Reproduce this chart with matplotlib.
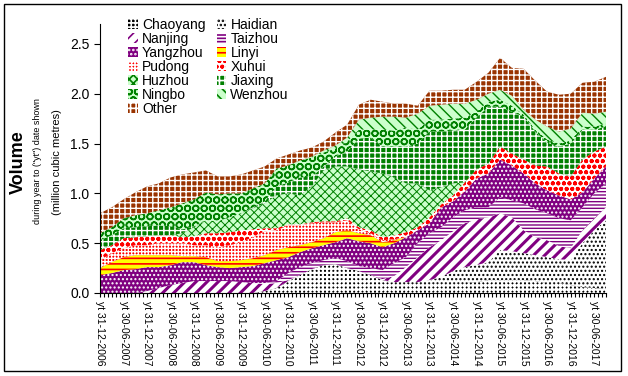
import numpy as np
import matplotlib
matplotlib.use('Agg')
import matplotlib.pyplot as plt
from matplotlib.patches import Rectangle, Patch

plt.rcParams['font.family'] = ['Liberation Sans', 'DejaVu Sans']
plt.rcParams['hatch.linewidth'] = 1.2

# month index (0 = Dec 2006), quarterly readings
months = list(range(0, 130, 3))

chaoyang = [0, 0, 0, 0, 0, 0, 0, 0, 0, 0, 0, 0, 0, 0,
            .02, .05, .12, .18, .24, .28, .29, .25, .22, .18, .13, .10, .10, .10, .10, .10,
            .10, .10, .11, .13, .13, .13, .13, .12, .10, .10, .08, .06, .05, .04]
haidian = [0, 0, 0, 0, 0, 0, 0, 0, 0, 0, 0, 0, 0, 0, 0, 0, 0, 0, 0, 0, 0, 0, 0, 0, 0,
           .01, .01, .01, .03, .06, .12, .16, .17, .18, .30, .29, .27, .26, .26, .24,
           .25, .44, .58, .69]
nanjing = [0, 0, 0, 0, .02, .05, .08, .10, .12, .12, .12, .12, .11, .10, .07, .05, .01,
           0, 0, 0, 0, 0, 0, 0, .01, .06, .15, .25, .33, .37, .40, .44, .46, .45, .37,
           .34, .23, .18, .17, .13, .12, .13, .12, .13]
taizhou = [0, 0, 0, 0, 0, 0, 0, 0, 0, 0, 0, 0, 0, 0,
           .01, .02, .07, .08, .06, .05, .06, .07, .05, .07, .09, .13, .10, .14, .14, .13,
           .14, .13, .12, .10, .16, .17, .27, .28, .27, .28, .28, .23, .25, .24]
yangzhou = [.18, .20, .23, .24, .24, .21, .20, .21, .19, .16, .14, .13, .15, .17, .20,
            .21, .16, .15, .15, .15, .16, .23, .25, .25, .23, .20, .20, .13, .10, .20,
            .16, .19, .29, .34, .38, .35, .30, .26, .23, .23, .21, .15, .15, .17]
linyi = [.07, .11, .13, .14, .12, .12, .10, .06, .06, .08, .06, .07, .07, .08, .08, .10,
         .10, .07, .06, .07, .10, .08, .08, .08, .05, .03,
         0, 0, 0, 0, 0, 0, 0, 0, 0, 0, 0, 0, 0, 0, 0, 0, 0, 0]
pudong = [.08, .09, .09, .10, .10, .12, .12, .13, .11, .12, .14, .16, .18, .21, .24, .20,
          .22, .20, .19, .16, .10, .10, .04, .02, .02, .01,
          0, 0, 0, 0, 0, 0, 0, 0, 0, 0, 0, 0, 0, 0, 0, 0, 0, 0]
xuhui = [.10, .08, .10, .08, .09, .08, .08, .06, .09, .12, .14, .13, .12, .08, .03, .02,
         .01, .01, .01, .01, .01, .02, .02, .03, .03, .04, .05, .03, .06, .03, .06, .09,
         .09, .10, .13, .12, .14, .18, .24, .22, .23, .33, .27, .20]
huzhou = [0, 0, 0, 0, 0, 0, 0, .04, .09, .13, .12, .15, .17, .21, .25, .33, .31, .29,
          .36, .51, .55, .52, .58, .59, .64, .58, .49, .44, .27, .17, .12,
          0, 0, 0, 0, 0, 0, 0, 0, 0, 0, 0, 0, 0]
jiaxing = [.10, .10, .10, .10, .10, .10, .09, .04, .01, 0, 0, 0, 0, .01, .02, .09, .11,
           .18, .10, .04, .10, .15, .31, .34, .27, .31, .37, .40, .59, .56, .53, .53,
           .52, .57, .40, .42, .43, .34, .24, .27, .33, .30, .22, .20]
ningbo = [.07, .08, .10, .12, .13, .15, .19, .26, .27, .28, .27, .24, .20, .19, .18, .18,
          .17, .17, .19, .14, .08, .10, .09, .08, .17, .16, .19, .14, .12, .12, .12, .12,
          .06, .05, .07, .06, .02, .02, .03, .03, .03, .03, .03, .03]
wenzhou = [0, 0, 0, 0, 0, 0, 0, 0, 0, 0, 0, 0, 0, 0, 0, 0, 0, 0,
           .01, .02, .03, .04, .10, .12, .13, .14, .10, .16, .14, .15, .15, .14, .12, .08,
           .10, .10, .05, .10, .13, .12, .12, .14, .13, .12]
other = [.20, .20, .19, .23, .27, .27, .30, .29, .27, .22, .18, .17, .19, .18, .17, .10,
         .11, .10, .09, .09, .13, .13, .15, .18, .15, .13, .14, .08, .15, .14, .14, .14,
         .18, .21, .32, .28, .41, .39, .35, .37, .35, .30, .32, .35]

tick_labels = ['yt 31-12-2006', 'yt 30-06-2007', 'yt 31-12-2007', 'yt 30-06-2008',
               'yt 31-12-2008', 'yt 30-06-2009', 'yt 31-12-2009', 'yt 30-06-2010',
               'yt 31-12-2010', 'yt 30-06-2011', 'yt 31-12-2011', 'yt 30-06-2012',
               'yt 31-12-2012', 'yt 30-06-2013', 'yt 31-12-2013', 'yt 30-06-2014',
               'yt 31-12-2014', 'yt 30-06-2015', 'yt 31-12-2015', 'yt 30-06-2016',
               'yt 31-12-2016', 'yt 30-06-2017']

# name, values, face, hatch colour, hatch, hatch line width
series = [
    ('Chaoyang', chaoyang, '#000000', '#FFFFFF', '++++', 1.6),
    ('Haidian', haidian, '#FFFFFF', '#000000', '....', 1.0),
    ('Nanjing', nanjing, '#FFFFFF', '#800080', '///', 2.2),
    ('Taizhou', taizhou, '#FFFFFF', '#800080', '-----', 1.0),
    ('Yangzhou', yangzhou, '#800080', '#FFFFFF', '....', 1.0),
    ('Linyi', linyi, '#FFFF00', '#FF0000', '---', 1.2),
    ('Pudong', pudong, '#FF0000', '#FFFFFF', '+++++', 1.0),
    ('Xuhui', xuhui, '#FFFFFF', '#FF0000', 'ooo', 1.3),
    ('Huzhou', huzhou, '#CCFFCC', '#008000', 'xxxx', 0.7),
    ('Jiaxing', jiaxing, '#008000', '#FFFFFF', '+++', 1.0),
    ('Ningbo', ningbo, '#CCFFCC', '#008000', 'OO', 1.1),
    ('Wenzhou', wenzhou, '#CCFFCC', '#008000', '\\\\\\', 1.0),
    ('Other', other, '#993300', '#FFFFFF', '+++', 1.0),
]


def set_hlw(artist, lw):
    if hasattr(artist, 'set_hatch_linewidth'):
        artist.set_hatch_linewidth(lw)
    else:
        artist._hatch_linewidth = lw


fig = plt.figure(figsize=(6.28, 3.76), dpi=100)
ax = fig.add_axes([100 / 628, 1 - 293 / 376, 506 / 628, (293 - 24) / 376])

bottom = np.zeros(len(months))
handles = []
for name, vals, fc, hc, h, hlw in series:
    top = bottom + np.array(vals)
    with plt.rc_context({'hatch.linewidth': hlw}):
        coll = ax.fill_between(months, bottom, top, facecolor=fc, edgecolor=hc,
                               hatch=h, linewidth=0)
        p = Patch(facecolor=fc, edgecolor=hc, hatch=h, linewidth=0, label=name)
    set_hlw(coll, hlw)
    set_hlw(p, hlw)
    handles.append(p)
    bottom = top

ax.set_xlim(0, 129)
ax.set_ylim(0, 2.7)
ax.set_yticks([0, 0.5, 1.0, 1.5, 2.0, 2.5])
ax.set_yticklabels(['0.0', '0.5', '1.0', '1.5', '2.0', '2.5'])
ax.set_xticks(list(range(0, 129, 6)))
ax.set_xticklabels(tick_labels, rotation=-90, fontsize=7.5)
ax.set_xticks(list(range(0, 130)), minor=True)
ax.tick_params(axis='y', labelsize=10, length=4, direction='out', width=0.8)
ax.tick_params(axis='x', which='both', length=3, direction='out', width=0.8, pad=3)
for s in ['top', 'right']:
    ax.spines[s].set_visible(False)
for s in ['left', 'bottom']:
    ax.spines[s].set_linewidth(0.8)

order = [0, 2, 4, 6, 8, 10, 12, 1, 3, 5, 7, 9, 11]
leg = ax.legend([handles[i] for i in order], [series[i][0] for i in order],
                ncol=2, loc='upper left', bbox_to_anchor=(128 / 628, 1 - 18 / 376),
                bbox_transform=fig.transFigure, frameon=False, fontsize=10,
                labelspacing=0.0, handlelength=0.7, handleheight=0.7,
                handletextpad=0.3, columnspacing=0.8, borderpad=0, borderaxespad=0)

fig.text(18 / 628, 1 - 162 / 376, 'Volume', rotation=90, fontsize=13,
         fontweight='bold', ha='center', va='center')
fig.text(38 / 628, 1 - 161 / 376, 'during year to ("yt") date shown', rotation=90,
         fontsize=6.5, ha='center', va='center')
fig.text(57 / 628, 1 - 162 / 376, '(million cubic metres)', rotation=90,
         fontsize=8, ha='center', va='center')

fig.patches.append(Rectangle((4 / 628, 1 - 371 / 376), 617 / 628, 367 / 376,
                             transform=fig.transFigure, fill=False,
                             edgecolor='black', linewidth=1))

fig.savefig('out.png', dpi=100)
